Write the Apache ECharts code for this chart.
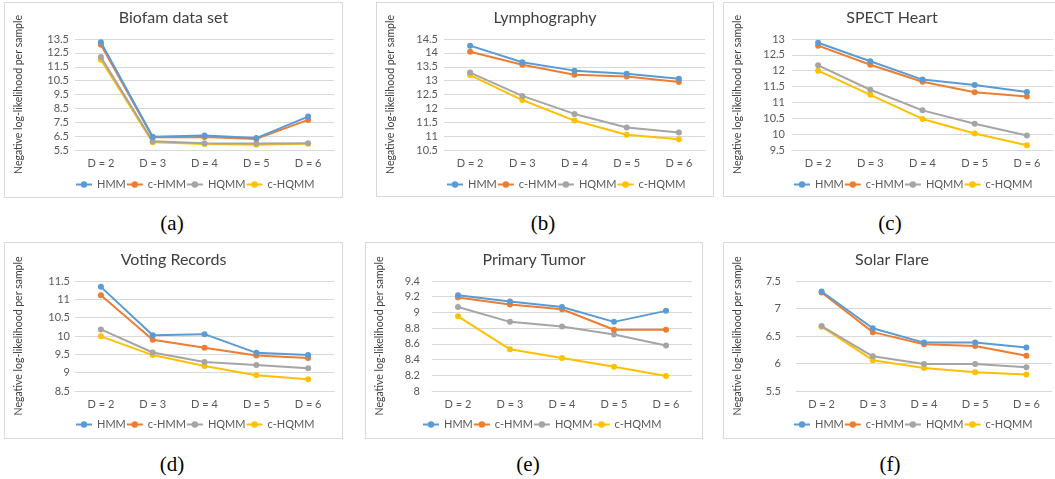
<!DOCTYPE html>
<html>
<head>
<meta charset="utf-8">
<script src="https://cdn.jsdelivr.net/npm/echarts@6/dist/echarts.min.js"></script>
<style>
  body { margin: 0; width: 1055px; height: 479px; overflow: hidden; background: #fff; }
  .panel { position: absolute; border: 1px solid #d9d9d9; box-sizing: border-box; }
  .cap { position: absolute; font-family: "Liberation Serif", serif; font-size: 21px; color: #000; transform: translateX(-50%); }
</style>
</head>
<body>
<div class="panel" id="pa" style="left:4px;top:2px;width:339px;height:196px"></div>
<div class="panel" id="pb" style="left:376px;top:2px;width:338px;height:195px"></div>
<div class="panel" id="pc" style="left:723px;top:2px;width:338px;height:195px"></div>
<div class="panel" id="pd" style="left:4px;top:242px;width:339px;height:197px"></div>
<div class="panel" id="pe" style="left:365px;top:242px;width:338px;height:197px"></div>
<div class="panel" id="pf" style="left:723px;top:242px;width:338px;height:197px"></div>
<div class="cap" style="left:172px;top:211px">(a)</div>
<div class="cap" style="left:543px;top:211px">(b)</div>
<div class="cap" style="left:890px;top:211px">(c)</div>
<div class="cap" style="left:172px;top:452px">(d)</div>
<div class="cap" style="left:528px;top:452px">(e)</div>
<div class="cap" style="left:890px;top:452px">(f)</div>
<script>
// categories and series names
const dims = ['D = 2', 'D = 3', 'D = 4', 'D = 5', 'D = 6']
const models = ['HMM', 'c-HMM', 'HQMM', 'c-HQMM']
const colors = ['#5b9bd5', '#ed7d31', '#a5a5a5', '#ffc000']

// rows: HMM, c-HMM, HQMM, c-HQMM
const biofam = [
  [13.26, 6.45, 6.54, 6.36, 7.91],
  [13.09, 6.42, 6.44, 6.30, 7.67],
  [12.20, 6.13, 5.98, 5.96, 5.98],
  [12.00, 6.05, 5.93, 5.88, 5.95]
]
const lympho = [
  [14.26, 13.66, 13.36, 13.25, 13.07],
  [14.04, 13.57, 13.21, 13.15, 12.95],
  [13.29, 12.45, 11.80, 11.31, 11.13],
  [13.20, 12.30, 11.56, 11.05, 10.89]
]
const spect = [
  [12.88, 12.30, 11.72, 11.55, 11.33],
  [12.79, 12.19, 11.65, 11.32, 11.19],
  [12.17, 11.40, 10.75, 10.33, 9.96],
  [12.00, 11.24, 10.48, 10.02, 9.65]
]
const voting = [
  [11.34, 10.02, 10.05, 9.54, 9.48],
  [11.11, 9.90, 9.68, 9.47, 9.40],
  [10.18, 9.55, 9.29, 9.21, 9.12],
  [9.99, 9.48, 9.18, 8.93, 8.82]
]
const tumor = [
  [9.22, 9.14, 9.07, 8.88, 9.02],
  [9.19, 9.10, 9.04, 8.78, 8.78],
  [9.07, 8.88, 8.82, 8.72, 8.58],
  [8.95, 8.53, 8.42, 8.31, 8.19]
]
const solar = [
  [7.31, 6.64, 6.38, 6.38, 6.29],
  [7.29, 6.57, 6.35, 6.32, 6.14],
  [6.68, 6.13, 5.99, 5.99, 5.93],
  [6.67, 6.06, 5.92, 5.84, 5.80]
]

// y ticks: [min, max, step]
const biofamTicks = [5.5, 13.5, 1]
const lymphoTicks = [10.5, 14.5, 0.5]
const spectTicks = [9.5, 13, 0.5]
const votingTicks = [8.5, 11.5, 0.5]
const tumorTicks = [8, 9.4, 0.2]
const solarTicks = [5.5, 7.5, 0.5]

const panels = [
  { id: 'pa', title: 'Biofam data set', data: biofam, ticks: biofamTicks, left: 53, right: 8, top: 36, bottom: 47, lm: 6, titleTop: 2, legendLeft: 70 },
  { id: 'pb', title: 'Lymphography', data: lympho, ticks: lymphoTicks, left: 50, right: 8, top: 36, bottom: 46, lm: 6, titleTop: 2, legendLeft: 69 },
  { id: 'pc', title: 'SPECT Heart', data: spect, ticks: spectTicks, left: 51, right: 7, top: 36, bottom: 46, lm: 7, titleTop: 2, legendLeft: 69 },
  { id: 'pd', title: 'Voting Records', data: voting, ticks: votingTicks, left: 53, right: 8, top: 38, bottom: 47, lm: 5, titleTop: 4, legendLeft: 70 },
  { id: 'pe', title: 'Primary Tumor', data: tumor, ticks: tumorTicks, left: 49, right: 10, top: 38, bottom: 47, lm: 12, titleTop: 4, legendLeft: 56 },
  { id: 'pf', title: 'Solar Flare', data: solar, ticks: solarTicks, left: 55, right: 8, top: 38, bottom: 47, lm: 15, titleTop: 4, legendLeft: 69 }
]

const charts = []

panels.forEach(p => {
  const chart = echarts.init(document.getElementById(p.id))
  const [tmin, tmax, step] = p.ticks
  // when min is not a multiple of step, tick every half step and hide the in-between ones
  const offGrid = Math.abs(tmin / step - Math.round(tmin / step)) > 1e-6
  const interval = offGrid ? step / 2 : step
  const option = {
    textStyle: { fontFamily: 'Lato' },
    title: {
      text: p.title,
      left: 'center',
      top: p.titleTop,
      textStyle: { fontFamily: 'Lato', fontSize: 16, fontWeight: 'normal', color: '#404040' }
    },
    legend: {
      data: models,
      left: p.legendLeft,
      top: 176,
      padding: 0,
      itemWidth: 16,
      itemHeight: 8,
      itemGap: 0,
      textStyle: { fontFamily: 'Lato', fontSize: 11, color: '#595959' }
    },
    grid: { left: p.left, right: p.right, top: p.top, bottom: p.bottom },
    xAxis: {
      type: 'category',
      data: dims,
      axisTick: { show: false },
      axisLine: { lineStyle: { color: '#d9d9d9' } },
      axisLabel: { color: '#595959', fontSize: 11, margin: 8 }
    },
    yAxis: {
      type: 'value',
      min: tmin,
      max: tmax,
      interval: interval,
      name: 'Negative log-likelihood per sample',
      nameLocation: 'middle',
      nameGap: p.left - 2,
      nameTextStyle: { fontFamily: 'Lato', fontSize: 10.5, color: '#404040' },
      axisLine: { show: false },
      axisTick: { show: false },
      axisLabel: {
        color: '#595959',
        fontSize: 11,
        margin: p.lm,
        formatter: v => {
          if (offGrid && Math.abs((v - tmin) / step - Math.round((v - tmin) / step)) > 1e-6) return ''
          return String(Math.round(v * 10) / 10)
        }
      },
      splitLine: {
        lineStyle: { color: offGrid ? ['#d9d9d9', 'rgba(0,0,0,0)'] : '#d9d9d9', width: 1 }
      }
    },
    series: models.map((m, i) => ({
      name: m,
      type: 'line',
      data: p.data[i],
      symbol: 'circle',
      symbolSize: 6,
      lineStyle: { width: 2, color: colors[i] },
      itemStyle: { color: colors[i] },
      z: 10 - i
    }))
  }
  chart.setOption(option)
  charts.push(chart)
})
</script>
</body>
</html>
